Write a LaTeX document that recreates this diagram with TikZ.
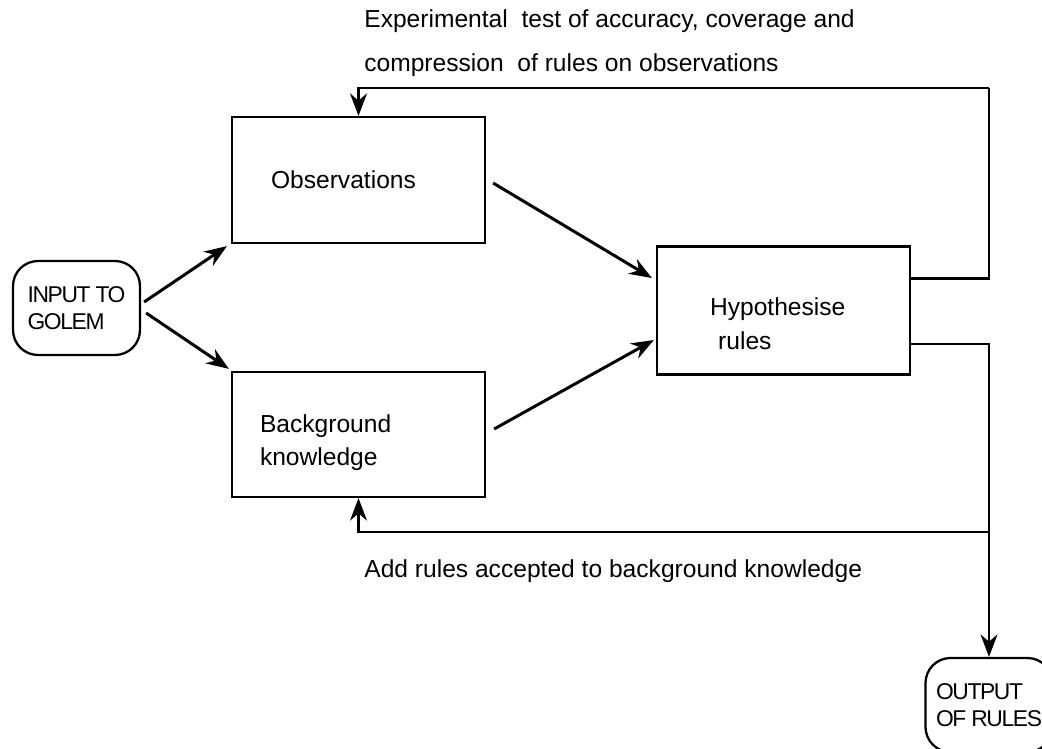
\documentclass[tikz,border=0pt]{standalone}
\usepackage{fontspec}
\setmainfont{Liberation Sans}
\newfontfamily\capsfont[LetterSpace=-6]{Liberation Sans}
\usetikzlibrary{arrows.meta}

\begin{document}
\begin{tikzpicture}[x=0.02cm,y=-0.02cm,
  font=\fontsize{14}{19}\selectfont,
  stagebox/.style={draw, line width=1.3pt, minimum width=5.06cm, align=left},
  endbox/.style={draw, line width=1.3pt, rounded corners=0.5cm, minimum height=1.88cm,
    minimum width=2.54cm, align=left,
    font=\capsfont\fontsize{13}{15.5}\selectfont},
  arr/.style={line width=1.7pt, -{Stealth[length=0.45cm,width=0.34cm]}},
  fb/.style={line width=1.3pt}]
\useasboundingbox (0,0) rectangle (1042,748);

\node[endbox] (in) at (76.5,308) {INPUT TO\\GOLEM};
\node[stagebox, minimum height=2.52cm, inner xsep=0.78cm, text width=3.5cm] (obs) at (358.5,180) {Observations};
\node[stagebox, minimum height=2.5cm, inner xsep=0.56cm, text width=3.94cm] (bk) at (358.5,434.5)
  {\rule{0pt}{0.68cm}Background\\knowledge};
\node[stagebox, minimum height=2.56cm, inner xsep=1.06cm, text width=2.94cm] (hyp) at (783.5,310.5)
  {\rule{0pt}{0.88cm}Hypothesise\\~rules};
\node[endbox] (out) at (989,705) {OUTPUT\\OF RULES};

\node[anchor=north west, inner sep=0, align=left] (toptxt) at (364,9)
  {Experimental\ \ test of accuracy, coverage and\\[6.5pt]compression\ \ of rules on observations};
\node[anchor=north west, inner sep=0] (bottxt) at (364,559)
  {Add rules accepted to background knowledge};

% input to the two stores
\draw[arr] ([xshift=0.06cm,yshift=0.12cm]in.east) -- ([xshift=-0.08cm,yshift=-0.04cm]obs.south west);
\draw[arr] ([xshift=0.1cm,yshift=-0.1cm]in.east) -- ([xshift=-0.04cm,yshift=0.04cm]bk.north west);
\draw[arr] ([xshift=0.14cm,yshift=-0.06cm]obs.east) -- ([xshift=-0.08cm,yshift=0.65cm]hyp.west);
\draw[arr] ([xshift=0.16cm,yshift=0.11cm]bk.east) -- ([xshift=-0.04cm,yshift=-0.59cm]hyp.west);

% feedback loops
\coordinate (topc) at (989,88);
\coordinate (jn) at (989,532);
\draw[fb] ([yshift=-0.66cm]hyp.north east) -| (topc);
\draw[fb, arr, line width=1.3pt] (topc) -| (obs.north);
\draw[fb] ([yshift=0.64cm]hyp.south east) -| (jn);
\draw[fb, arr, line width=1.3pt] (jn) -| (bk.south);
\draw[fb, arr, line width=1.3pt] (jn) -- (out);
\end{tikzpicture}
\end{document}
